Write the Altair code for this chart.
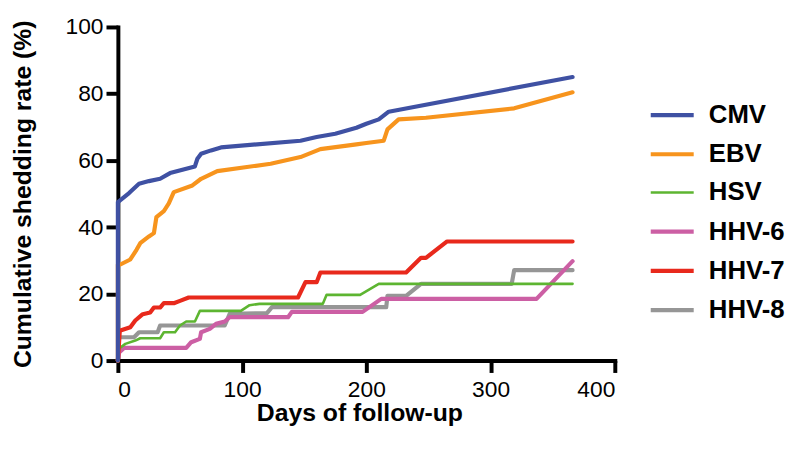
import altair as alt
import pandas as pd

viruses = ["CMV", "EBV", "HSV", "HHV-6", "HHV-7", "HHV-8"]
colors = ["#3F51A3", "#F7941D", "#5DB531", "#CC5FA4", "#E8291C", "#969696"]
widths = [4.2, 4.2, 2.6, 4.2, 4.2, 4.2]
draw_order = ["HHV-8", "HHV-6", "HSV", "HHV-7", "EBV", "CMV"]

cmv_days = [0, 0, 9, 17, 25, 34, 42, 52, 62, 64, 67, 75, 83, 147, 160, 175, 192, 200, 210, 218, 366]
cmv_vals = [0, 47.5, 50.2, 53, 53.8, 54.5, 56.2, 57.2, 58.2, 60.5, 62, 63, 63.9, 65.9, 67, 68, 69.8, 71, 72.3, 74.6, 85]

ebv_days = [0, 0, 2, 10, 15, 18, 25, 29, 31, 37, 41, 45, 60, 67, 80, 123, 147, 163, 192, 200, 214, 217, 226, 248, 319, 366]
ebv_vals = [0, 28.8, 28.8, 30.3, 33.2, 35.2, 37.2, 38.2, 43, 44.8, 47.1, 50.5, 52.5, 54.5, 56.8, 59, 61, 63.4, 64.8, 65.2, 65.9, 69.3, 72.3, 72.8, 75.6, 80.4]

hsv_days = [0, 1, 6, 14, 18, 34, 37, 46, 50, 55, 62, 66, 99, 106, 114, 165, 168, 195, 210, 366]
hsv_vals = [0, 3.6, 5, 6, 6.7, 6.7, 8.5, 8.5, 10.5, 11.7, 11.7, 14.9, 14.9, 16.6, 17, 17, 19.7, 19.7, 23, 23]

hhv6_days = [0, 1, 5, 55, 59, 66, 67, 74, 79, 86, 90, 137, 140, 197, 212, 337, 366]
hhv6_vals = [0, 2.4, 3.8, 3.8, 5.5, 6.5, 8.5, 9.5, 11, 11.7, 13, 13, 14.6, 14.6, 18.5, 18.5, 29.8]

hhv7_days = [0, 1.5, 2, 10, 14, 20, 26, 29, 34, 37, 45, 50, 57, 145, 151, 160, 163, 232, 244, 248, 265, 366]
hhv7_vals = [0, 8.7, 9, 10, 12, 13.9, 14.4, 15.9, 15.9, 17.2, 17.2, 17.9, 18.9, 18.9, 23.5, 23.5, 26.4, 26.4, 30.8, 30.8, 35.7, 35.7]

hhv8_days = [0, 1, 13, 17, 32, 34, 86, 90, 120, 124, 216, 217, 232, 244, 317, 319, 366]
hhv8_vals = [0, 7, 7, 8.5, 8.5, 10.5, 10.5, 14, 14.2, 16, 16, 19.4, 19.4, 23, 23, 27.1, 27.1]

series = {
    "CMV": (cmv_days, cmv_vals),
    "EBV": (ebv_days, ebv_vals),
    "HSV": (hsv_days, hsv_vals),
    "HHV-6": (hhv6_days, hhv6_vals),
    "HHV-7": (hhv7_days, hhv7_vals),
    "HHV-8": (hhv8_days, hhv8_vals),
}

rows = []
for name in draw_order:
    d, v = series[name]
    for i, (dd, vv) in enumerate(zip(d, v)):
        rows.append({"virus": name, "day": dd, "rate": vv, "idx": i})
df = pd.DataFrame(rows)

FONT = "Liberation Sans"

legend = alt.Legend(
    title=None, orient="none", legendX=542, legendY=71, direction="vertical",
    symbolType="M-1.4,0H1.4", symbolSize=961, padding=0,
    labelFont=FONT, labelFontSize=26, labelFontWeight="bold", labelColor="black",
    labelOffset=19, rowPadding=8.6, labelLimit=200,
)

chart = alt.Chart(df).mark_line(strokeCap="round", strokeJoin="round").encode(
    x=alt.X("day:Q", scale=alt.Scale(domain=[0, 400], nice=False),
            axis=alt.Axis(values=[0, 100, 200, 300, 400], title="Days of follow-up",
                          titleX=244, titleY=53, titleBaseline="middle")),
    y=alt.Y("rate:Q", scale=alt.Scale(domain=[0, 100], nice=False),
            axis=alt.Axis(values=[0, 20, 40, 60, 80, 100], title="Cumulative shedding rate (%)",
                          titleX=-96, titleBaseline="middle")),
    color=alt.Color("virus:N", scale=alt.Scale(domain=viruses, range=colors), legend=legend),
    strokeWidth=alt.StrokeWidth("virus:N", scale=alt.Scale(domain=viruses, range=widths, type="ordinal"), legend=legend),
    order=alt.Order("idx:Q"),
).properties(
    width=502, height=337,
    autosize=alt.AutoSizeParams(type="none"),
    padding={"left": 111, "top": 17, "right": 179, "bottom": 70},
).configure_view(stroke=None).configure_axis(
    grid=False, domainColor="black", domainWidth=4, domainCap="square",
    tickColor="black", tickWidth=4, tickSize=12,
    labelFont=FONT, labelFontSize=23, labelColor="black", labelPadding=3,
    titleFont=FONT, titleFontSize=25, titleFontWeight="bold", titleColor="black",
).configure_axisX(labelPadding=6)

chart.save("out.html", embed_options={"renderer": "svg", "actions": False})
